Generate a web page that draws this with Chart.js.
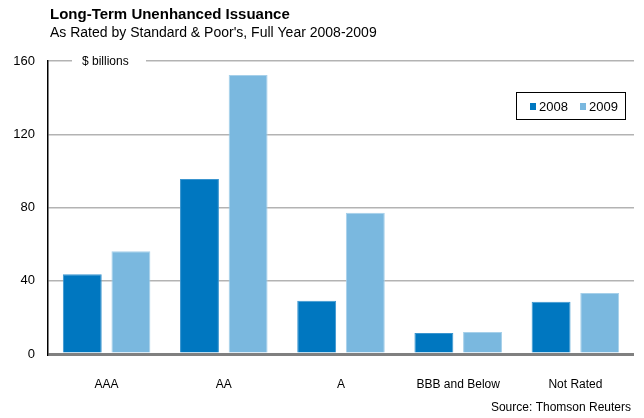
<!DOCTYPE html>
<html>
<head>
<meta charset="utf-8">
<title>Long-Term Unenhanced Issuance</title>
<script src="https://cdn.jsdelivr.net/npm/chart.js@4"></script>
<style>
  html, body { margin: 0; padding: 0; background: #fff; }
  canvas { display: block; }
</style>
</head>
<body>
<canvas id="issuanceChart" width="644" height="418"></canvas>
<script>
// rating buckets and yearly issuance ($ billions)
var categories = ['AAA', 'AA', 'A', 'BBB and Below', 'Not Rated'];
var issuance2008 = [43.6, 95.5, 29.1, 11.4, 28.6];
var issuance2009 = [56.1, 152.3, 77.2, 12.0, 33.3];
var yearLabels = ['2008', '2009'];
var yTicks = [0, 40, 80, 120, 160];

var FONT = '"Liberation Sans", Arial, Helvetica, sans-serif';
var DARK_BLUE = '#0077c0';
var LIGHT_BLUE = '#7ab8df';

/* titles, unit label, legend box and source line */
var decorPlugin = {
  id: 'decor',
  afterDraw: function (chart) {
    var c = chart.ctx;
    var area = chart.chartArea;
    c.save();

    c.fillStyle = '#000';
    c.textAlign = 'left';
    c.textBaseline = 'alphabetic';
    c.font = 'bold 15px ' + FONT;
    c.fillText('Long-Term Unenhanced Issuance', 50, 19);
    c.font = '14px ' + FONT;
    c.fillText("As Rated by Standard & Poor's, Full Year 2008-2009", 50, 37);

    // unit label sits on the top gridline
    c.fillStyle = '#fff';
    c.fillRect(area.left + 24, area.top - 6, 74, 12);
    c.fillStyle = '#000';
    c.font = '12px ' + FONT;
    c.textBaseline = 'middle';
    c.fillText('$ billions', area.left + 34, area.top + 1);

    // legend
    var lx = 516, ly = 92, lw = 109, lh = 27;
    c.strokeStyle = '#000';
    c.lineWidth = 1;
    c.strokeRect(lx + 0.5, ly + 0.5, lw, lh);
    var items = chart.data.datasets;
    var offsets = [14, 64];
    c.font = '13px ' + FONT;
    items.forEach(function (ds, i) {
      var x = lx + offsets[i];
      c.fillStyle = ds.backgroundColor;
      c.fillRect(x, ly + 11, 6, 7);
      c.fillStyle = '#000';
      c.fillText(ds.label, x + 9, ly + 15);
    });

    c.textAlign = 'right';
    c.font = '12px ' + FONT;
    c.fillText('Source: Thomson Reuters', 631, 408);
    c.restore();
  }
};

new Chart(document.getElementById('issuanceChart'), {
  type: 'bar',
  data: {
    labels: categories,
    datasets: [{
      label: yearLabels[0],
      data: issuance2008,
      backgroundColor: DARK_BLUE,
      borderColor: '#3a95cf',
      borderWidth: 1
    }, {
      label: yearLabels[1],
      data: issuance2009,
      backgroundColor: LIGHT_BLUE,
      borderColor: '#a6d0ea',
      borderWidth: 1
    }]
  },
  options: {
    responsive: false,
    animation: false,
    devicePixelRatio: 1,
    categoryPercentage: 0.83,
    barPercentage: 0.8,
    layout: { padding: { top: 61, right: 10, bottom: 0, left: 0 } },
    plugins: {
      legend: { display: false },
      title: { display: false },
      tooltip: { enabled: false }
    },
    scales: {
      x: {
        grid: { display: false },
        border: { display: false },
        ticks: {
          color: '#000',
          padding: 15,
          font: { family: FONT, size: 12 }
        },
        afterFit: function (scale) { scale.height = 64; }
      },
      y: {
        min: 0,
        max: 160,
        afterBuildTicks: function (scale) {
          scale.ticks = yTicks.map(function (v) { return { value: v }; });
        },
        ticks: {
          color: '#000',
          padding: 13,
          font: { family: FONT, size: 13 }
        },
        grid: {
          drawTicks: false,
          color: function (ctx) {
            return ctx.tick && ctx.tick.value === 0 ? '#808080' : '#b3b3b3';
          },
          lineWidth: function (ctx) {
            return ctx.tick && ctx.tick.value === 0 ? 3 : 1.5;
          }
        },
        border: { display: true, color: '#000', width: 1.5 },
        afterFit: function (scale) { scale.width = 48; }
      }
    }
  },
  plugins: [decorPlugin]
});
</script>
</body>
</html>
